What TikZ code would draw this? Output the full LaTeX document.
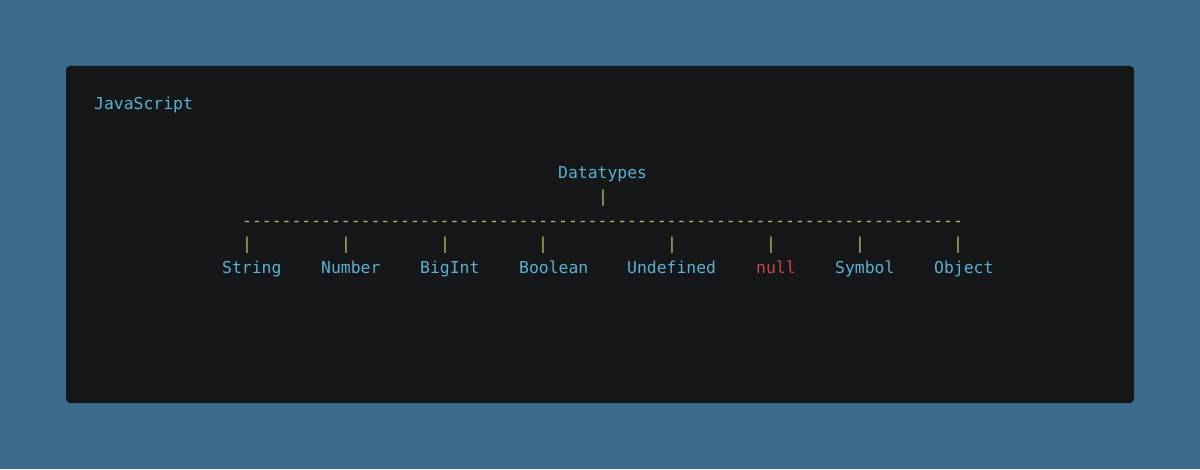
\documentclass[tikz,border=0pt]{standalone}
\usepackage{fontspec}
\setmonofont{DejaVu Sans Mono}
\definecolor{bgblue}{HTML}{3A6C8A}
\definecolor{panel}{HTML}{161719}
\definecolor{txtblue}{HTML}{5AB0D0}
\definecolor{bargreen}{HTML}{A8C262}
\definecolor{nullred}{HTML}{CC4348}
\tikzset{
  code/.style={inner sep=0pt, font=\ttfamily\fontsize{16.4}{20}\selectfont},
  lbl/.style={code, text=txtblue, anchor=base west},
  bar/.style={code, text=bargreen, anchor=base},
}
\begin{document}
\begin{tikzpicture}[x=1pt,y=1pt]
\useasboundingbox (0,0) rectangle (1200,469);
\fill[bgblue] (0,0) rectangle (1200,469);
\fill[panel, rounded corners=4pt] (66,66) rectangle (1134,403);
\node[lbl] (js) at (94,359) {JavaScript};
\node[lbl] (dt) at (558,290) {Datatypes};
\node[bar] (stem) at (603,266.4) {|};
\node[bar, anchor=base west] (dash) at (242,242.8) {-------------------------------------------------------------------------};
\node[bar] (b1) at (247,219.3) {|};
\node[bar] (b2) at (346,219.3) {|};
\node[bar] (b3) at (445,219.3) {|};
\node[bar] (b4) at (543,219.3) {|};
\node[bar] (b5) at (672,219.3) {|};
\node[bar] (b6) at (771,219.3) {|};
\node[bar] (b7) at (860,219.3) {|};
\node[bar] (b8) at (958,219.3) {|};
\node[lbl] (t1) at (222,195.7) {String};
\node[lbl] (t2) at (321,195.7) {Number};
\node[lbl] (t3) at (420,195.7) {BigInt};
\node[lbl] (t4) at (519,195.7) {Boolean};
\node[lbl] (t5) at (627,195.7) {Undefined};
\node[lbl, text=nullred] (t6) at (756,195.7) {null};
\node[lbl] (t7) at (835,195.7) {Symbol};
\node[lbl] (t8) at (934,195.7) {Object};
\end{tikzpicture}
\end{document}
